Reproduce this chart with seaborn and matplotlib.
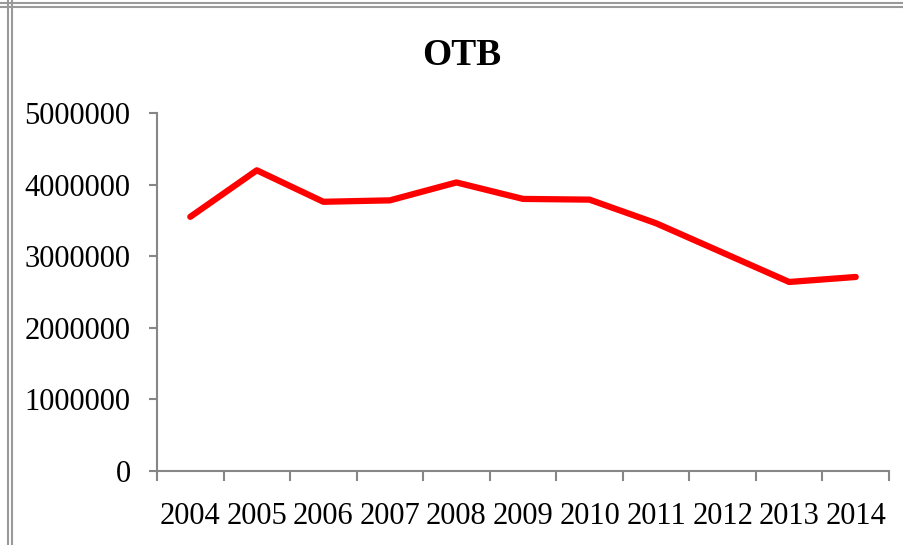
import numpy as np
import pandas as pd
import seaborn as sns
import matplotlib.pyplot as plt
from matplotlib.lines import Line2D

years = ['2004', '2005', '2006', '2007', '2008', '2009', '2010', '2011', '2012', '2013', '2014']
otb = [3550000, 4200000, 3760000, 3780000, 4030000, 3800000, 3790000, 3460000, 3050000, 2640000, 2710000]
yticks = [0, 1000000, 2000000, 3000000, 4000000, 5000000]

df = pd.DataFrame({'year': years, 'otb': otb})

sns.set_style('white')
plt.rcParams['font.family'] = ['Liberation Serif', 'DejaVu Serif']
plt.rcParams['text.color'] = 'black'
plt.rcParams['xtick.color'] = 'black'
plt.rcParams['ytick.color'] = 'black'
axis_col = '#868686'

fig = plt.figure(figsize=(9.04, 5.45), dpi=100)
ax = fig.add_axes([157 / 904, 1 - 471 / 545, 732 / 904, 358 / 545])

sns.lineplot(data=df, x='year', y='otb', color='#ff0000', linewidth=4.5, sort=False, ax=ax)

ax.set_xlim(-0.5, len(years) - 0.5)
ax.set_ylim(0, 5000000)
ax.set_yticks(yticks)
ax.set_yticklabels([str(v) for v in yticks], fontsize=22)
ax.set_xticks(range(len(years)))
ax.set_xticklabels(years, fontsize=22)
ax.set_xlabel('')
ax.set_ylabel('')

# category boundary ticks like excel
ax.set_xticks(np.arange(-0.5, len(years)), minor=True)
ax.tick_params(axis='x', which='major', bottom=True, length=0, pad=22, labelcolor='black')
ax.tick_params(axis='x', which='minor', bottom=True, length=7.5, width=1.5, color=axis_col, direction='out')
ax.tick_params(axis='y', left=True, length=6, width=1.5, color=axis_col, direction='out', pad=13, labelcolor='black')

for s in ['top', 'right']:
    ax.spines[s].set_visible(False)
for s in ['left', 'bottom']:
    ax.spines[s].set_color(axis_col)
    ax.spines[s].set_linewidth(1.5)

fig.text(462 / 904, 1 - 55 / 545, 'OTB', fontsize=27, fontweight='bold', ha='center', va='center', color='black')

# window borders from the screenshot
for x in [8 / 904, 11.5 / 904]:
    fig.add_artist(Line2D([x, x], [0, 1], color='#999999', lw=1.5, transform=fig.transFigure))
for y in [1 - 3 / 545, 1 - 7 / 545]:
    fig.add_artist(Line2D([0, 1], [y, y], color='#999999', lw=1.5, transform=fig.transFigure))

fig.savefig('out.png', dpi=100)
